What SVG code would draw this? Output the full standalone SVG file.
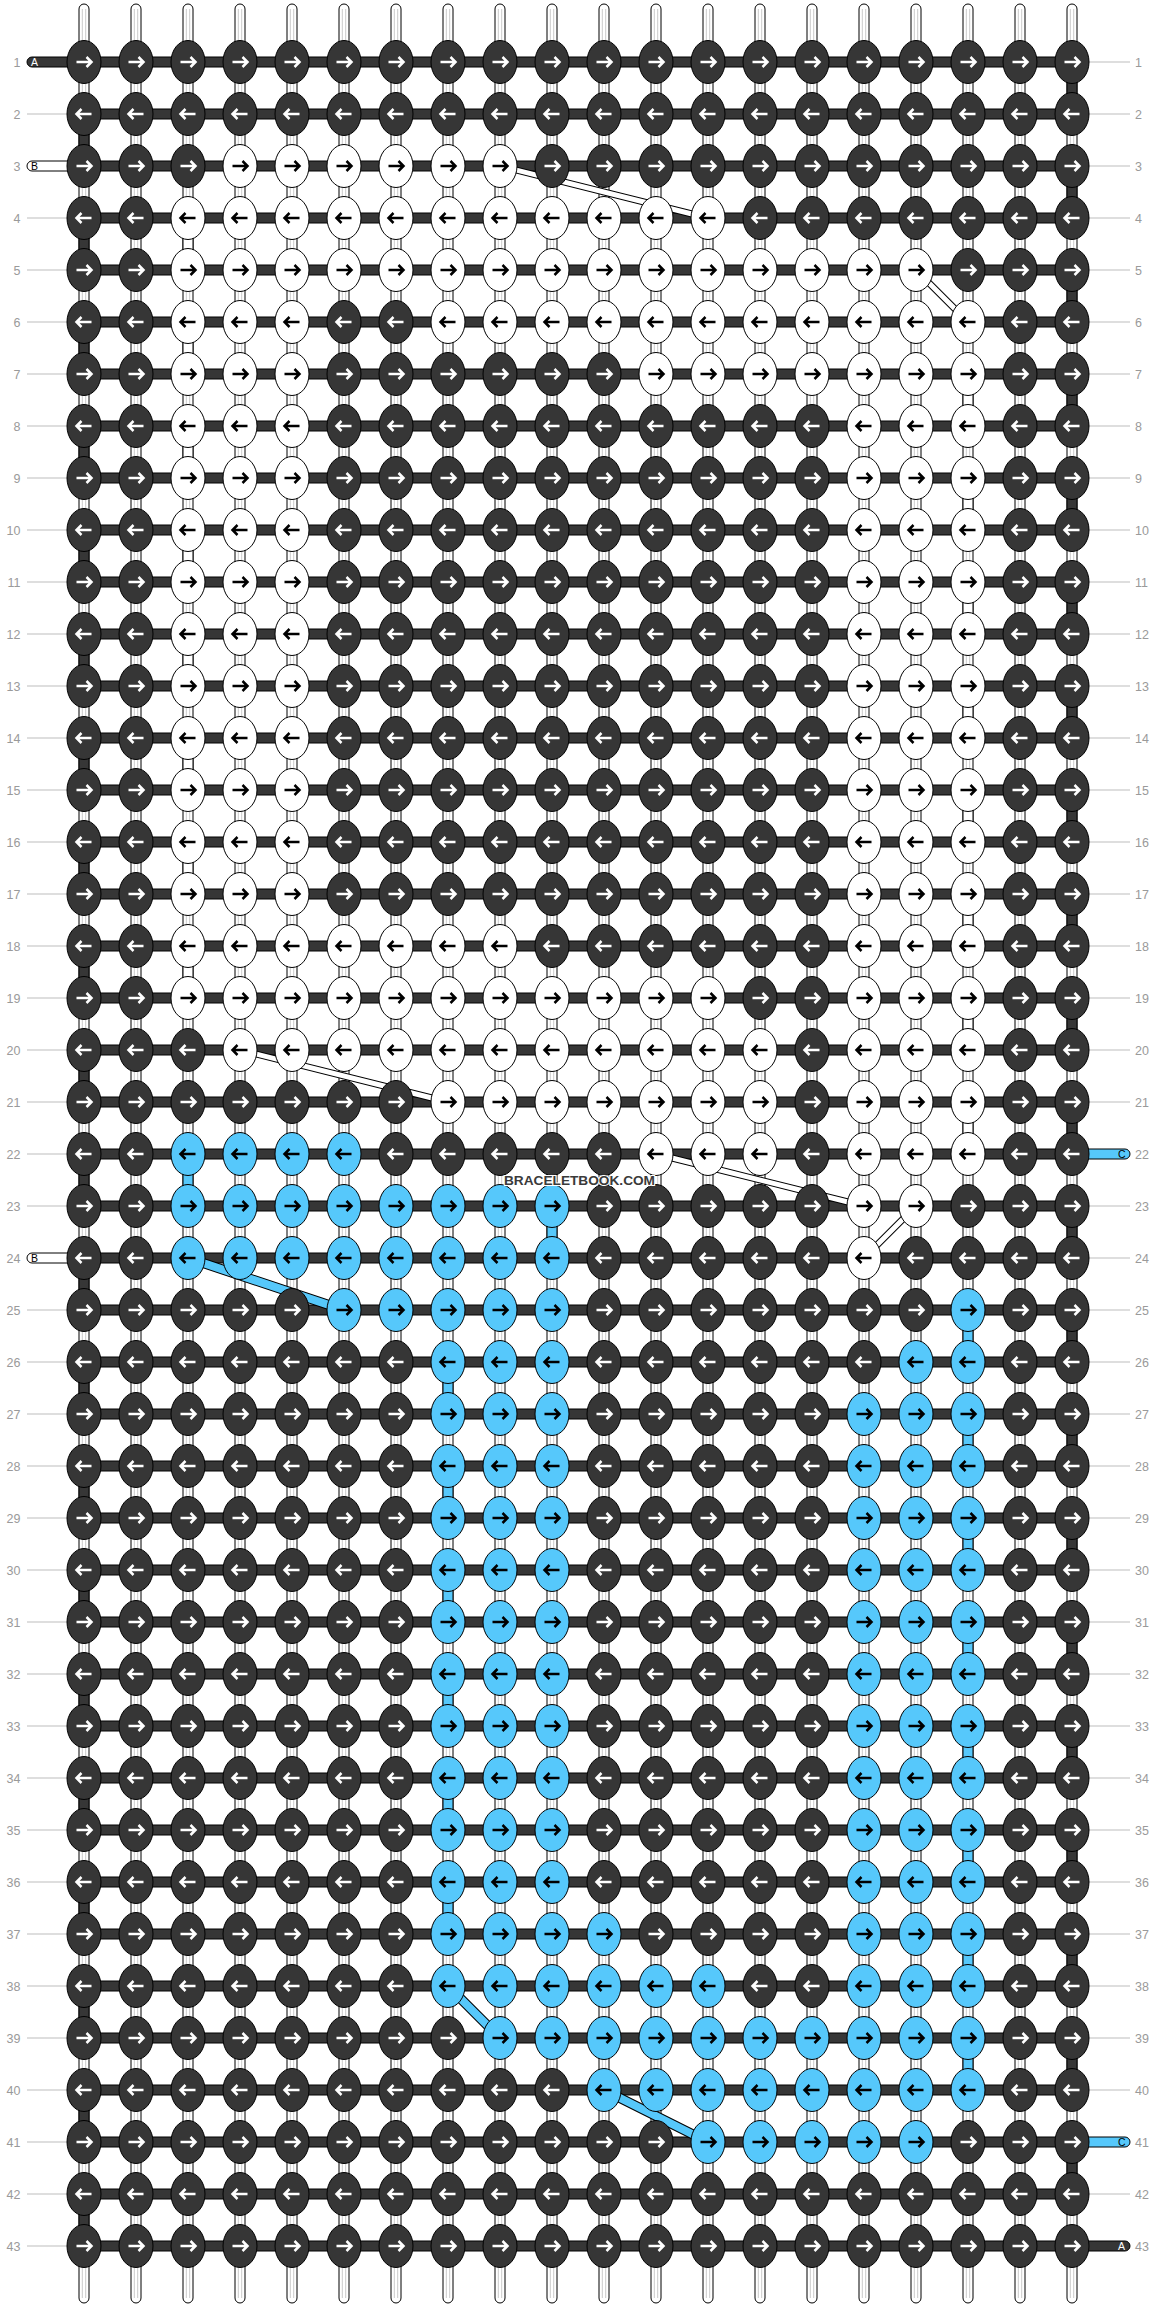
<svg xmlns="http://www.w3.org/2000/svg" width="1156" height="2308" viewBox="0 0 1156 2308">
<style>
.d{fill:#363636;stroke:#000;stroke-width:1}
.w{fill:#fff;stroke:#000;stroke-width:1}
.b{fill:#56c8fb;stroke:#000;stroke-width:1}
.aw{fill:none;stroke:#fff;stroke-width:2.5}
.ak{fill:none;stroke:#000;stroke-width:2.5}
.nl{font-family:"Liberation Sans",Arial,sans-serif;font-size:12.5px;fill:#9a9a9a;text-anchor:end}
.nr{font-family:"Liberation Sans",Arial,sans-serif;font-size:12.5px;fill:#9a9a9a}
.gl{stroke:#bdbdbd;stroke-width:1}
.lt{font-family:"Liberation Sans",Arial,sans-serif;font-size:10.5px}
.wm{font-family:"Liberation Sans",Arial,sans-serif;font-size:13px;font-weight:bold;fill:#3a3a3a;stroke:#fff;stroke-width:2;paint-order:stroke}
</style>
<defs>
<g id="str"><rect x="-5" y="4" width="10" height="2299" rx="5" class="w"/><path d="M-1.7,9V2298M1.7,9V2298" stroke="#cacaca" stroke-width="1"/></g>
<rect id="bar" x="84" y="-5" width="988" height="10" class="d"/>
<rect id="tD" width="10" height="52" class="d"/>
<rect id="tW" width="10" height="52" class="w"/>
<rect id="tB" width="10" height="52" class="b"/>
<path id="ar" d="M-7.5,0H7.5M2.5,-5L7.5,0L2.5,5"/>
<path id="al" d="M7.5,0H-7.5M-2.5,-5L-7.5,0L-2.5,5"/>
<g id="dr"><ellipse rx="17" ry="21.5" class="d"/><use href="#ar" class="aw"/></g>
<g id="dl"><ellipse rx="17" ry="21.5" class="d"/><use href="#al" class="aw"/></g>
<g id="wr"><ellipse rx="17" ry="21.5" class="w"/><use href="#ar" class="ak"/></g>
<g id="wl"><ellipse rx="17" ry="21.5" class="w"/><use href="#al" class="ak"/></g>
<g id="br"><ellipse rx="17" ry="21.5" class="b"/><use href="#ar" class="ak"/></g>
<g id="bl"><ellipse rx="17" ry="21.5" class="b"/><use href="#al" class="ak"/></g>
</defs>
<rect width="1156" height="2308" fill="#fff"/>
<g id="connectors">
<g id="strings">
<use href="#str" x="84"/><use href="#str" x="136"/><use href="#str" x="188"/><use href="#str" x="240"/><use href="#str" x="292"/><use href="#str" x="344"/><use href="#str" x="396"/><use href="#str" x="448"/><use href="#str" x="500"/><use href="#str" x="552"/><use href="#str" x="604"/><use href="#str" x="656"/><use href="#str" x="708"/><use href="#str" x="760"/><use href="#str" x="812"/><use href="#str" x="864"/><use href="#str" x="916"/><use href="#str" x="968"/><use href="#str" x="1020"/><use href="#str" x="1072"/>
</g>
<g id="turns">
<use href="#tD" x="79" y="114"/><use href="#tD" x="79" y="218"/><use href="#tD" x="79" y="322"/><use href="#tD" x="79" y="426"/><use href="#tD" x="79" y="530"/><use href="#tD" x="79" y="634"/><use href="#tD" x="79" y="738"/><use href="#tD" x="79" y="842"/><use href="#tD" x="79" y="946"/><use href="#tD" x="79" y="1050"/><use href="#tD" x="79" y="1154"/><use href="#tD" x="79" y="1258"/><use href="#tD" x="79" y="1362"/><use href="#tD" x="79" y="1466"/><use href="#tD" x="79" y="1570"/><use href="#tD" x="79" y="1674"/><use href="#tD" x="79" y="1778"/><use href="#tD" x="79" y="1882"/><use href="#tD" x="79" y="1986"/><use href="#tD" x="79" y="2090"/><use href="#tD" x="79" y="2194"/>
<use href="#tD" x="1067" y="62"/><use href="#tD" x="1067" y="166"/><use href="#tD" x="1067" y="270"/><use href="#tD" x="1067" y="374"/><use href="#tD" x="1067" y="478"/><use href="#tD" x="1067" y="582"/><use href="#tD" x="1067" y="686"/><use href="#tD" x="1067" y="790"/><use href="#tD" x="1067" y="894"/><use href="#tD" x="1067" y="998"/><use href="#tD" x="1067" y="1102"/><use href="#tD" x="1067" y="1206"/><use href="#tD" x="1067" y="1310"/><use href="#tD" x="1067" y="1414"/><use href="#tD" x="1067" y="1518"/><use href="#tD" x="1067" y="1622"/><use href="#tD" x="1067" y="1726"/><use href="#tD" x="1067" y="1830"/><use href="#tD" x="1067" y="1934"/><use href="#tD" x="1067" y="2038"/><use href="#tD" x="1067" y="2142"/>
<use href="#tW" x="183" y="218"/><use href="#tW" x="183" y="322"/><use href="#tW" x="183" y="426"/><use href="#tW" x="183" y="530"/><use href="#tW" x="183" y="634"/><use href="#tW" x="183" y="738"/><use href="#tW" x="183" y="842"/><use href="#tW" x="183" y="946"/>
<use href="#tW" x="963" y="374"/><use href="#tW" x="963" y="478"/><use href="#tW" x="963" y="582"/><use href="#tW" x="963" y="686"/><use href="#tW" x="963" y="790"/><use href="#tW" x="963" y="894"/><use href="#tW" x="963" y="998"/><use href="#tW" x="963" y="1102"/>
<use href="#tB" x="183" y="1154"/><use href="#tB" x="547" y="1206"/>
<use href="#tB" x="963" y="1310"/><use href="#tB" x="963" y="1414"/><use href="#tB" x="963" y="1518"/><use href="#tB" x="963" y="1622"/><use href="#tB" x="963" y="1726"/><use href="#tB" x="963" y="1830"/><use href="#tB" x="963" y="1934"/><use href="#tB" x="963" y="2038"/>
<use href="#tB" x="443" y="1362"/><use href="#tB" x="443" y="1466"/><use href="#tB" x="443" y="1570"/><use href="#tB" x="443" y="1674"/><use href="#tB" x="443" y="1778"/><use href="#tB" x="443" y="1882"/>
</g>
<g id="bars">
<use href="#bar" y="62"/><use href="#bar" y="114"/><use href="#bar" y="166"/><use href="#bar" y="218"/><use href="#bar" y="270"/><use href="#bar" y="322"/><use href="#bar" y="374"/><use href="#bar" y="426"/><use href="#bar" y="478"/><use href="#bar" y="530"/><use href="#bar" y="582"/><use href="#bar" y="634"/><use href="#bar" y="686"/><use href="#bar" y="738"/><use href="#bar" y="790"/><use href="#bar" y="842"/><use href="#bar" y="894"/><use href="#bar" y="946"/><use href="#bar" y="998"/><use href="#bar" y="1050"/><use href="#bar" y="1102"/><use href="#bar" y="1154"/><use href="#bar" y="1206"/><use href="#bar" y="1258"/><use href="#bar" y="1310"/><use href="#bar" y="1362"/><use href="#bar" y="1414"/><use href="#bar" y="1466"/><use href="#bar" y="1518"/><use href="#bar" y="1570"/><use href="#bar" y="1622"/><use href="#bar" y="1674"/><use href="#bar" y="1726"/><use href="#bar" y="1778"/><use href="#bar" y="1830"/><use href="#bar" y="1882"/><use href="#bar" y="1934"/><use href="#bar" y="1986"/><use href="#bar" y="2038"/><use href="#bar" y="2090"/><use href="#bar" y="2142"/><use href="#bar" y="2194"/><use href="#bar" y="2246"/>
</g>
<g id="ends">
<path d="M84,57H32A5,5 0 0 0 32,67H84Z" class="d"/><text x="31" y="65.7" class="lt" fill="#fff">A</text>
<path d="M84,161H32A5,5 0 0 0 32,171H84Z" class="w"/><text x="31" y="169.7" class="lt" fill="#000">B</text>
<path d="M84,1253H32A5,5 0 0 0 32,1263H84Z" class="w"/><text x="31" y="1261.7" class="lt" fill="#000">B</text>
<path d="M1072,1149H1125A5,5 0 0 1 1125,1159H1072Z" class="b"/><text x="1118" y="1157.7" class="lt" fill="#000">C</text>
<path d="M1072,2137H1125A5,5 0 0 1 1125,2147H1072Z" class="b"/><text x="1118" y="2145.7" class="lt" fill="#000">C</text>
<path d="M1072,2241H1125A5,5 0 0 1 1125,2251H1072Z" class="d"/><text x="1118" y="2249.7" class="lt" fill="#fff">A</text>
</g>
<g id="carries">
<g stroke="#000" stroke-width="7"><path d="M500,166L708,218M916,270L968,322M240,1050L448,1102M656,1154L864,1206M916,1206L864,1258"/></g>
<g stroke="#fff" stroke-width="5"><path d="M500,166L708,218M916,270L968,322M240,1050L448,1102M656,1154L864,1206M916,1206L864,1258"/></g>
<g stroke="#000" stroke-width="10"><path d="M188,1258L344,1310M448,1986L500,2038M604,2090L708,2142"/></g>
<g stroke="#56c8fb" stroke-width="8"><path d="M188,1258L344,1310M448,1986L500,2038M604,2090L708,2142"/></g>
</g>
</g>
<g id="rownums">
<path class="gl" d="M27,114H67M27,218H67M27,270H67M27,322H67M27,374H67M27,426H67M27,478H67M27,530H67M27,582H67M27,634H67M27,686H67M27,738H67M27,790H67M27,842H67M27,894H67M27,946H67M27,998H67M27,1050H67M27,1102H67M27,1154H67M27,1206H67M27,1310H67M27,1362H67M27,1414H67M27,1466H67M27,1518H67M27,1570H67M27,1622H67M27,1674H67M27,1726H67M27,1778H67M27,1830H67M27,1882H67M27,1934H67M27,1986H67M27,2038H67M27,2090H67M27,2142H67M27,2194H67M27,2246H67"/>
<path class="gl" d="M1089,62H1130M1089,114H1130M1089,166H1130M1089,218H1130M1089,270H1130M1089,322H1130M1089,374H1130M1089,426H1130M1089,478H1130M1089,530H1130M1089,582H1130M1089,634H1130M1089,686H1130M1089,738H1130M1089,790H1130M1089,842H1130M1089,894H1130M1089,946H1130M1089,998H1130M1089,1050H1130M1089,1102H1130M1089,1206H1130M1089,1258H1130M1089,1310H1130M1089,1362H1130M1089,1414H1130M1089,1466H1130M1089,1518H1130M1089,1570H1130M1089,1622H1130M1089,1674H1130M1089,1726H1130M1089,1778H1130M1089,1830H1130M1089,1882H1130M1089,1934H1130M1089,1986H1130M1089,2038H1130M1089,2090H1130M1089,2194H1130"/>
<text class="nl" x="20.5" y="66.5">1</text><text class="nl" x="20.5" y="118.5">2</text><text class="nl" x="20.5" y="170.5">3</text><text class="nl" x="20.5" y="222.5">4</text><text class="nl" x="20.5" y="274.5">5</text><text class="nl" x="20.5" y="326.5">6</text><text class="nl" x="20.5" y="378.5">7</text><text class="nl" x="20.5" y="430.5">8</text><text class="nl" x="20.5" y="482.5">9</text><text class="nl" x="20.5" y="534.5">10</text><text class="nl" x="20.5" y="586.5">11</text><text class="nl" x="20.5" y="638.5">12</text><text class="nl" x="20.5" y="690.5">13</text><text class="nl" x="20.5" y="742.5">14</text><text class="nl" x="20.5" y="794.5">15</text><text class="nl" x="20.5" y="846.5">16</text><text class="nl" x="20.5" y="898.5">17</text><text class="nl" x="20.5" y="950.5">18</text><text class="nl" x="20.5" y="1002.5">19</text><text class="nl" x="20.5" y="1054.5">20</text><text class="nl" x="20.5" y="1106.5">21</text><text class="nl" x="20.5" y="1158.5">22</text><text class="nl" x="20.5" y="1210.5">23</text><text class="nl" x="20.5" y="1262.5">24</text><text class="nl" x="20.5" y="1314.5">25</text><text class="nl" x="20.5" y="1366.5">26</text><text class="nl" x="20.5" y="1418.5">27</text><text class="nl" x="20.5" y="1470.5">28</text><text class="nl" x="20.5" y="1522.5">29</text><text class="nl" x="20.5" y="1574.5">30</text><text class="nl" x="20.5" y="1626.5">31</text><text class="nl" x="20.5" y="1678.5">32</text><text class="nl" x="20.5" y="1730.5">33</text><text class="nl" x="20.5" y="1782.5">34</text><text class="nl" x="20.5" y="1834.5">35</text><text class="nl" x="20.5" y="1886.5">36</text><text class="nl" x="20.5" y="1938.5">37</text><text class="nl" x="20.5" y="1990.5">38</text><text class="nl" x="20.5" y="2042.5">39</text><text class="nl" x="20.5" y="2094.5">40</text><text class="nl" x="20.5" y="2146.5">41</text><text class="nl" x="20.5" y="2198.5">42</text><text class="nl" x="20.5" y="2250.5">43</text>
<text class="nr" x="1135" y="66.5">1</text><text class="nr" x="1135" y="118.5">2</text><text class="nr" x="1135" y="170.5">3</text><text class="nr" x="1135" y="222.5">4</text><text class="nr" x="1135" y="274.5">5</text><text class="nr" x="1135" y="326.5">6</text><text class="nr" x="1135" y="378.5">7</text><text class="nr" x="1135" y="430.5">8</text><text class="nr" x="1135" y="482.5">9</text><text class="nr" x="1135" y="534.5">10</text><text class="nr" x="1135" y="586.5">11</text><text class="nr" x="1135" y="638.5">12</text><text class="nr" x="1135" y="690.5">13</text><text class="nr" x="1135" y="742.5">14</text><text class="nr" x="1135" y="794.5">15</text><text class="nr" x="1135" y="846.5">16</text><text class="nr" x="1135" y="898.5">17</text><text class="nr" x="1135" y="950.5">18</text><text class="nr" x="1135" y="1002.5">19</text><text class="nr" x="1135" y="1054.5">20</text><text class="nr" x="1135" y="1106.5">21</text><text class="nr" x="1135" y="1158.5">22</text><text class="nr" x="1135" y="1210.5">23</text><text class="nr" x="1135" y="1262.5">24</text><text class="nr" x="1135" y="1314.5">25</text><text class="nr" x="1135" y="1366.5">26</text><text class="nr" x="1135" y="1418.5">27</text><text class="nr" x="1135" y="1470.5">28</text><text class="nr" x="1135" y="1522.5">29</text><text class="nr" x="1135" y="1574.5">30</text><text class="nr" x="1135" y="1626.5">31</text><text class="nr" x="1135" y="1678.5">32</text><text class="nr" x="1135" y="1730.5">33</text><text class="nr" x="1135" y="1782.5">34</text><text class="nr" x="1135" y="1834.5">35</text><text class="nr" x="1135" y="1886.5">36</text><text class="nr" x="1135" y="1938.5">37</text><text class="nr" x="1135" y="1990.5">38</text><text class="nr" x="1135" y="2042.5">39</text><text class="nr" x="1135" y="2094.5">40</text><text class="nr" x="1135" y="2146.5">41</text><text class="nr" x="1135" y="2198.5">42</text><text class="nr" x="1135" y="2250.5">43</text>
</g>
<g id="knots">
<g transform="translate(0,62)"><g id="n1_1"><use href="#dr" x="84"/></g><g id="n1_2"><use href="#dr" x="136"/></g><g id="n1_3"><use href="#dr" x="188"/></g><g id="n1_4"><use href="#dr" x="240"/></g><g id="n1_5"><use href="#dr" x="292"/></g><g id="n1_6"><use href="#dr" x="344"/></g><g id="n1_7"><use href="#dr" x="396"/></g><g id="n1_8"><use href="#dr" x="448"/></g><g id="n1_9"><use href="#dr" x="500"/></g><g id="n1_10"><use href="#dr" x="552"/></g><g id="n1_11"><use href="#dr" x="604"/></g><g id="n1_12"><use href="#dr" x="656"/></g><g id="n1_13"><use href="#dr" x="708"/></g><g id="n1_14"><use href="#dr" x="760"/></g><g id="n1_15"><use href="#dr" x="812"/></g><g id="n1_16"><use href="#dr" x="864"/></g><g id="n1_17"><use href="#dr" x="916"/></g><g id="n1_18"><use href="#dr" x="968"/></g><g id="n1_19"><use href="#dr" x="1020"/></g><g id="n1_20"><use href="#dr" x="1072"/></g></g>
<g transform="translate(0,114)"><g id="n2_1"><use href="#dl" x="84"/></g><g id="n2_2"><use href="#dl" x="136"/></g><g id="n2_3"><use href="#dl" x="188"/></g><g id="n2_4"><use href="#dl" x="240"/></g><g id="n2_5"><use href="#dl" x="292"/></g><g id="n2_6"><use href="#dl" x="344"/></g><g id="n2_7"><use href="#dl" x="396"/></g><g id="n2_8"><use href="#dl" x="448"/></g><g id="n2_9"><use href="#dl" x="500"/></g><g id="n2_10"><use href="#dl" x="552"/></g><g id="n2_11"><use href="#dl" x="604"/></g><g id="n2_12"><use href="#dl" x="656"/></g><g id="n2_13"><use href="#dl" x="708"/></g><g id="n2_14"><use href="#dl" x="760"/></g><g id="n2_15"><use href="#dl" x="812"/></g><g id="n2_16"><use href="#dl" x="864"/></g><g id="n2_17"><use href="#dl" x="916"/></g><g id="n2_18"><use href="#dl" x="968"/></g><g id="n2_19"><use href="#dl" x="1020"/></g><g id="n2_20"><use href="#dl" x="1072"/></g></g>
<g transform="translate(0,166)"><g id="n3_1"><use href="#dr" x="84"/></g><g id="n3_2"><use href="#dr" x="136"/></g><g id="n3_3"><use href="#dr" x="188"/></g><g id="n3_4"><use href="#wr" x="240"/></g><g id="n3_5"><use href="#wr" x="292"/></g><g id="n3_6"><use href="#wr" x="344"/></g><g id="n3_7"><use href="#wr" x="396"/></g><g id="n3_8"><use href="#wr" x="448"/></g><g id="n3_9"><use href="#wr" x="500"/></g><g id="n3_10"><use href="#dr" x="552"/></g><g id="n3_11"><use href="#dr" x="604"/></g><g id="n3_12"><use href="#dr" x="656"/></g><g id="n3_13"><use href="#dr" x="708"/></g><g id="n3_14"><use href="#dr" x="760"/></g><g id="n3_15"><use href="#dr" x="812"/></g><g id="n3_16"><use href="#dr" x="864"/></g><g id="n3_17"><use href="#dr" x="916"/></g><g id="n3_18"><use href="#dr" x="968"/></g><g id="n3_19"><use href="#dr" x="1020"/></g><g id="n3_20"><use href="#dr" x="1072"/></g></g>
<g transform="translate(0,218)"><g id="n4_1"><use href="#dl" x="84"/></g><g id="n4_2"><use href="#dl" x="136"/></g><g id="n4_3"><use href="#wl" x="188"/></g><g id="n4_4"><use href="#wl" x="240"/></g><g id="n4_5"><use href="#wl" x="292"/></g><g id="n4_6"><use href="#wl" x="344"/></g><g id="n4_7"><use href="#wl" x="396"/></g><g id="n4_8"><use href="#wl" x="448"/></g><g id="n4_9"><use href="#wl" x="500"/></g><g id="n4_10"><use href="#wl" x="552"/></g><g id="n4_11"><use href="#wl" x="604"/></g><g id="n4_12"><use href="#wl" x="656"/></g><g id="n4_13"><use href="#wl" x="708"/></g><g id="n4_14"><use href="#dl" x="760"/></g><g id="n4_15"><use href="#dl" x="812"/></g><g id="n4_16"><use href="#dl" x="864"/></g><g id="n4_17"><use href="#dl" x="916"/></g><g id="n4_18"><use href="#dl" x="968"/></g><g id="n4_19"><use href="#dl" x="1020"/></g><g id="n4_20"><use href="#dl" x="1072"/></g></g>
<g transform="translate(0,270)"><g id="n5_1"><use href="#dr" x="84"/></g><g id="n5_2"><use href="#dr" x="136"/></g><g id="n5_3"><use href="#wr" x="188"/></g><g id="n5_4"><use href="#wr" x="240"/></g><g id="n5_5"><use href="#wr" x="292"/></g><g id="n5_6"><use href="#wr" x="344"/></g><g id="n5_7"><use href="#wr" x="396"/></g><g id="n5_8"><use href="#wr" x="448"/></g><g id="n5_9"><use href="#wr" x="500"/></g><g id="n5_10"><use href="#wr" x="552"/></g><g id="n5_11"><use href="#wr" x="604"/></g><g id="n5_12"><use href="#wr" x="656"/></g><g id="n5_13"><use href="#wr" x="708"/></g><g id="n5_14"><use href="#wr" x="760"/></g><g id="n5_15"><use href="#wr" x="812"/></g><g id="n5_16"><use href="#wr" x="864"/></g><g id="n5_17"><use href="#wr" x="916"/></g><g id="n5_18"><use href="#dr" x="968"/></g><g id="n5_19"><use href="#dr" x="1020"/></g><g id="n5_20"><use href="#dr" x="1072"/></g></g>
<g transform="translate(0,322)"><g id="n6_1"><use href="#dl" x="84"/></g><g id="n6_2"><use href="#dl" x="136"/></g><g id="n6_3"><use href="#wl" x="188"/></g><g id="n6_4"><use href="#wl" x="240"/></g><g id="n6_5"><use href="#wl" x="292"/></g><g id="n6_6"><use href="#dl" x="344"/></g><g id="n6_7"><use href="#dl" x="396"/></g><g id="n6_8"><use href="#wl" x="448"/></g><g id="n6_9"><use href="#wl" x="500"/></g><g id="n6_10"><use href="#wl" x="552"/></g><g id="n6_11"><use href="#wl" x="604"/></g><g id="n6_12"><use href="#wl" x="656"/></g><g id="n6_13"><use href="#wl" x="708"/></g><g id="n6_14"><use href="#wl" x="760"/></g><g id="n6_15"><use href="#wl" x="812"/></g><g id="n6_16"><use href="#wl" x="864"/></g><g id="n6_17"><use href="#wl" x="916"/></g><g id="n6_18"><use href="#wl" x="968"/></g><g id="n6_19"><use href="#dl" x="1020"/></g><g id="n6_20"><use href="#dl" x="1072"/></g></g>
<g transform="translate(0,374)"><g id="n7_1"><use href="#dr" x="84"/></g><g id="n7_2"><use href="#dr" x="136"/></g><g id="n7_3"><use href="#wr" x="188"/></g><g id="n7_4"><use href="#wr" x="240"/></g><g id="n7_5"><use href="#wr" x="292"/></g><g id="n7_6"><use href="#dr" x="344"/></g><g id="n7_7"><use href="#dr" x="396"/></g><g id="n7_8"><use href="#dr" x="448"/></g><g id="n7_9"><use href="#dr" x="500"/></g><g id="n7_10"><use href="#dr" x="552"/></g><g id="n7_11"><use href="#dr" x="604"/></g><g id="n7_12"><use href="#wr" x="656"/></g><g id="n7_13"><use href="#wr" x="708"/></g><g id="n7_14"><use href="#wr" x="760"/></g><g id="n7_15"><use href="#wr" x="812"/></g><g id="n7_16"><use href="#wr" x="864"/></g><g id="n7_17"><use href="#wr" x="916"/></g><g id="n7_18"><use href="#wr" x="968"/></g><g id="n7_19"><use href="#dr" x="1020"/></g><g id="n7_20"><use href="#dr" x="1072"/></g></g>
<g transform="translate(0,426)"><g id="n8_1"><use href="#dl" x="84"/></g><g id="n8_2"><use href="#dl" x="136"/></g><g id="n8_3"><use href="#wl" x="188"/></g><g id="n8_4"><use href="#wl" x="240"/></g><g id="n8_5"><use href="#wl" x="292"/></g><g id="n8_6"><use href="#dl" x="344"/></g><g id="n8_7"><use href="#dl" x="396"/></g><g id="n8_8"><use href="#dl" x="448"/></g><g id="n8_9"><use href="#dl" x="500"/></g><g id="n8_10"><use href="#dl" x="552"/></g><g id="n8_11"><use href="#dl" x="604"/></g><g id="n8_12"><use href="#dl" x="656"/></g><g id="n8_13"><use href="#dl" x="708"/></g><g id="n8_14"><use href="#dl" x="760"/></g><g id="n8_15"><use href="#dl" x="812"/></g><g id="n8_16"><use href="#wl" x="864"/></g><g id="n8_17"><use href="#wl" x="916"/></g><g id="n8_18"><use href="#wl" x="968"/></g><g id="n8_19"><use href="#dl" x="1020"/></g><g id="n8_20"><use href="#dl" x="1072"/></g></g>
<g transform="translate(0,478)"><g id="n9_1"><use href="#dr" x="84"/></g><g id="n9_2"><use href="#dr" x="136"/></g><g id="n9_3"><use href="#wr" x="188"/></g><g id="n9_4"><use href="#wr" x="240"/></g><g id="n9_5"><use href="#wr" x="292"/></g><g id="n9_6"><use href="#dr" x="344"/></g><g id="n9_7"><use href="#dr" x="396"/></g><g id="n9_8"><use href="#dr" x="448"/></g><g id="n9_9"><use href="#dr" x="500"/></g><g id="n9_10"><use href="#dr" x="552"/></g><g id="n9_11"><use href="#dr" x="604"/></g><g id="n9_12"><use href="#dr" x="656"/></g><g id="n9_13"><use href="#dr" x="708"/></g><g id="n9_14"><use href="#dr" x="760"/></g><g id="n9_15"><use href="#dr" x="812"/></g><g id="n9_16"><use href="#wr" x="864"/></g><g id="n9_17"><use href="#wr" x="916"/></g><g id="n9_18"><use href="#wr" x="968"/></g><g id="n9_19"><use href="#dr" x="1020"/></g><g id="n9_20"><use href="#dr" x="1072"/></g></g>
<g transform="translate(0,530)"><g id="n10_1"><use href="#dl" x="84"/></g><g id="n10_2"><use href="#dl" x="136"/></g><g id="n10_3"><use href="#wl" x="188"/></g><g id="n10_4"><use href="#wl" x="240"/></g><g id="n10_5"><use href="#wl" x="292"/></g><g id="n10_6"><use href="#dl" x="344"/></g><g id="n10_7"><use href="#dl" x="396"/></g><g id="n10_8"><use href="#dl" x="448"/></g><g id="n10_9"><use href="#dl" x="500"/></g><g id="n10_10"><use href="#dl" x="552"/></g><g id="n10_11"><use href="#dl" x="604"/></g><g id="n10_12"><use href="#dl" x="656"/></g><g id="n10_13"><use href="#dl" x="708"/></g><g id="n10_14"><use href="#dl" x="760"/></g><g id="n10_15"><use href="#dl" x="812"/></g><g id="n10_16"><use href="#wl" x="864"/></g><g id="n10_17"><use href="#wl" x="916"/></g><g id="n10_18"><use href="#wl" x="968"/></g><g id="n10_19"><use href="#dl" x="1020"/></g><g id="n10_20"><use href="#dl" x="1072"/></g></g>
<g transform="translate(0,582)"><g id="n11_1"><use href="#dr" x="84"/></g><g id="n11_2"><use href="#dr" x="136"/></g><g id="n11_3"><use href="#wr" x="188"/></g><g id="n11_4"><use href="#wr" x="240"/></g><g id="n11_5"><use href="#wr" x="292"/></g><g id="n11_6"><use href="#dr" x="344"/></g><g id="n11_7"><use href="#dr" x="396"/></g><g id="n11_8"><use href="#dr" x="448"/></g><g id="n11_9"><use href="#dr" x="500"/></g><g id="n11_10"><use href="#dr" x="552"/></g><g id="n11_11"><use href="#dr" x="604"/></g><g id="n11_12"><use href="#dr" x="656"/></g><g id="n11_13"><use href="#dr" x="708"/></g><g id="n11_14"><use href="#dr" x="760"/></g><g id="n11_15"><use href="#dr" x="812"/></g><g id="n11_16"><use href="#wr" x="864"/></g><g id="n11_17"><use href="#wr" x="916"/></g><g id="n11_18"><use href="#wr" x="968"/></g><g id="n11_19"><use href="#dr" x="1020"/></g><g id="n11_20"><use href="#dr" x="1072"/></g></g>
<g transform="translate(0,634)"><g id="n12_1"><use href="#dl" x="84"/></g><g id="n12_2"><use href="#dl" x="136"/></g><g id="n12_3"><use href="#wl" x="188"/></g><g id="n12_4"><use href="#wl" x="240"/></g><g id="n12_5"><use href="#wl" x="292"/></g><g id="n12_6"><use href="#dl" x="344"/></g><g id="n12_7"><use href="#dl" x="396"/></g><g id="n12_8"><use href="#dl" x="448"/></g><g id="n12_9"><use href="#dl" x="500"/></g><g id="n12_10"><use href="#dl" x="552"/></g><g id="n12_11"><use href="#dl" x="604"/></g><g id="n12_12"><use href="#dl" x="656"/></g><g id="n12_13"><use href="#dl" x="708"/></g><g id="n12_14"><use href="#dl" x="760"/></g><g id="n12_15"><use href="#dl" x="812"/></g><g id="n12_16"><use href="#wl" x="864"/></g><g id="n12_17"><use href="#wl" x="916"/></g><g id="n12_18"><use href="#wl" x="968"/></g><g id="n12_19"><use href="#dl" x="1020"/></g><g id="n12_20"><use href="#dl" x="1072"/></g></g>
<g transform="translate(0,686)"><g id="n13_1"><use href="#dr" x="84"/></g><g id="n13_2"><use href="#dr" x="136"/></g><g id="n13_3"><use href="#wr" x="188"/></g><g id="n13_4"><use href="#wr" x="240"/></g><g id="n13_5"><use href="#wr" x="292"/></g><g id="n13_6"><use href="#dr" x="344"/></g><g id="n13_7"><use href="#dr" x="396"/></g><g id="n13_8"><use href="#dr" x="448"/></g><g id="n13_9"><use href="#dr" x="500"/></g><g id="n13_10"><use href="#dr" x="552"/></g><g id="n13_11"><use href="#dr" x="604"/></g><g id="n13_12"><use href="#dr" x="656"/></g><g id="n13_13"><use href="#dr" x="708"/></g><g id="n13_14"><use href="#dr" x="760"/></g><g id="n13_15"><use href="#dr" x="812"/></g><g id="n13_16"><use href="#wr" x="864"/></g><g id="n13_17"><use href="#wr" x="916"/></g><g id="n13_18"><use href="#wr" x="968"/></g><g id="n13_19"><use href="#dr" x="1020"/></g><g id="n13_20"><use href="#dr" x="1072"/></g></g>
<g transform="translate(0,738)"><g id="n14_1"><use href="#dl" x="84"/></g><g id="n14_2"><use href="#dl" x="136"/></g><g id="n14_3"><use href="#wl" x="188"/></g><g id="n14_4"><use href="#wl" x="240"/></g><g id="n14_5"><use href="#wl" x="292"/></g><g id="n14_6"><use href="#dl" x="344"/></g><g id="n14_7"><use href="#dl" x="396"/></g><g id="n14_8"><use href="#dl" x="448"/></g><g id="n14_9"><use href="#dl" x="500"/></g><g id="n14_10"><use href="#dl" x="552"/></g><g id="n14_11"><use href="#dl" x="604"/></g><g id="n14_12"><use href="#dl" x="656"/></g><g id="n14_13"><use href="#dl" x="708"/></g><g id="n14_14"><use href="#dl" x="760"/></g><g id="n14_15"><use href="#dl" x="812"/></g><g id="n14_16"><use href="#wl" x="864"/></g><g id="n14_17"><use href="#wl" x="916"/></g><g id="n14_18"><use href="#wl" x="968"/></g><g id="n14_19"><use href="#dl" x="1020"/></g><g id="n14_20"><use href="#dl" x="1072"/></g></g>
<g transform="translate(0,790)"><g id="n15_1"><use href="#dr" x="84"/></g><g id="n15_2"><use href="#dr" x="136"/></g><g id="n15_3"><use href="#wr" x="188"/></g><g id="n15_4"><use href="#wr" x="240"/></g><g id="n15_5"><use href="#wr" x="292"/></g><g id="n15_6"><use href="#dr" x="344"/></g><g id="n15_7"><use href="#dr" x="396"/></g><g id="n15_8"><use href="#dr" x="448"/></g><g id="n15_9"><use href="#dr" x="500"/></g><g id="n15_10"><use href="#dr" x="552"/></g><g id="n15_11"><use href="#dr" x="604"/></g><g id="n15_12"><use href="#dr" x="656"/></g><g id="n15_13"><use href="#dr" x="708"/></g><g id="n15_14"><use href="#dr" x="760"/></g><g id="n15_15"><use href="#dr" x="812"/></g><g id="n15_16"><use href="#wr" x="864"/></g><g id="n15_17"><use href="#wr" x="916"/></g><g id="n15_18"><use href="#wr" x="968"/></g><g id="n15_19"><use href="#dr" x="1020"/></g><g id="n15_20"><use href="#dr" x="1072"/></g></g>
<g transform="translate(0,842)"><g id="n16_1"><use href="#dl" x="84"/></g><g id="n16_2"><use href="#dl" x="136"/></g><g id="n16_3"><use href="#wl" x="188"/></g><g id="n16_4"><use href="#wl" x="240"/></g><g id="n16_5"><use href="#wl" x="292"/></g><g id="n16_6"><use href="#dl" x="344"/></g><g id="n16_7"><use href="#dl" x="396"/></g><g id="n16_8"><use href="#dl" x="448"/></g><g id="n16_9"><use href="#dl" x="500"/></g><g id="n16_10"><use href="#dl" x="552"/></g><g id="n16_11"><use href="#dl" x="604"/></g><g id="n16_12"><use href="#dl" x="656"/></g><g id="n16_13"><use href="#dl" x="708"/></g><g id="n16_14"><use href="#dl" x="760"/></g><g id="n16_15"><use href="#dl" x="812"/></g><g id="n16_16"><use href="#wl" x="864"/></g><g id="n16_17"><use href="#wl" x="916"/></g><g id="n16_18"><use href="#wl" x="968"/></g><g id="n16_19"><use href="#dl" x="1020"/></g><g id="n16_20"><use href="#dl" x="1072"/></g></g>
<g transform="translate(0,894)"><g id="n17_1"><use href="#dr" x="84"/></g><g id="n17_2"><use href="#dr" x="136"/></g><g id="n17_3"><use href="#wr" x="188"/></g><g id="n17_4"><use href="#wr" x="240"/></g><g id="n17_5"><use href="#wr" x="292"/></g><g id="n17_6"><use href="#dr" x="344"/></g><g id="n17_7"><use href="#dr" x="396"/></g><g id="n17_8"><use href="#dr" x="448"/></g><g id="n17_9"><use href="#dr" x="500"/></g><g id="n17_10"><use href="#dr" x="552"/></g><g id="n17_11"><use href="#dr" x="604"/></g><g id="n17_12"><use href="#dr" x="656"/></g><g id="n17_13"><use href="#dr" x="708"/></g><g id="n17_14"><use href="#dr" x="760"/></g><g id="n17_15"><use href="#dr" x="812"/></g><g id="n17_16"><use href="#wr" x="864"/></g><g id="n17_17"><use href="#wr" x="916"/></g><g id="n17_18"><use href="#wr" x="968"/></g><g id="n17_19"><use href="#dr" x="1020"/></g><g id="n17_20"><use href="#dr" x="1072"/></g></g>
<g transform="translate(0,946)"><g id="n18_1"><use href="#dl" x="84"/></g><g id="n18_2"><use href="#dl" x="136"/></g><g id="n18_3"><use href="#wl" x="188"/></g><g id="n18_4"><use href="#wl" x="240"/></g><g id="n18_5"><use href="#wl" x="292"/></g><g id="n18_6"><use href="#wl" x="344"/></g><g id="n18_7"><use href="#wl" x="396"/></g><g id="n18_8"><use href="#wl" x="448"/></g><g id="n18_9"><use href="#wl" x="500"/></g><g id="n18_10"><use href="#dl" x="552"/></g><g id="n18_11"><use href="#dl" x="604"/></g><g id="n18_12"><use href="#dl" x="656"/></g><g id="n18_13"><use href="#dl" x="708"/></g><g id="n18_14"><use href="#dl" x="760"/></g><g id="n18_15"><use href="#dl" x="812"/></g><g id="n18_16"><use href="#wl" x="864"/></g><g id="n18_17"><use href="#wl" x="916"/></g><g id="n18_18"><use href="#wl" x="968"/></g><g id="n18_19"><use href="#dl" x="1020"/></g><g id="n18_20"><use href="#dl" x="1072"/></g></g>
<g transform="translate(0,998)"><g id="n19_1"><use href="#dr" x="84"/></g><g id="n19_2"><use href="#dr" x="136"/></g><g id="n19_3"><use href="#wr" x="188"/></g><g id="n19_4"><use href="#wr" x="240"/></g><g id="n19_5"><use href="#wr" x="292"/></g><g id="n19_6"><use href="#wr" x="344"/></g><g id="n19_7"><use href="#wr" x="396"/></g><g id="n19_8"><use href="#wr" x="448"/></g><g id="n19_9"><use href="#wr" x="500"/></g><g id="n19_10"><use href="#wr" x="552"/></g><g id="n19_11"><use href="#wr" x="604"/></g><g id="n19_12"><use href="#wr" x="656"/></g><g id="n19_13"><use href="#wr" x="708"/></g><g id="n19_14"><use href="#dr" x="760"/></g><g id="n19_15"><use href="#dr" x="812"/></g><g id="n19_16"><use href="#wr" x="864"/></g><g id="n19_17"><use href="#wr" x="916"/></g><g id="n19_18"><use href="#wr" x="968"/></g><g id="n19_19"><use href="#dr" x="1020"/></g><g id="n19_20"><use href="#dr" x="1072"/></g></g>
<g transform="translate(0,1050)"><g id="n20_1"><use href="#dl" x="84"/></g><g id="n20_2"><use href="#dl" x="136"/></g><g id="n20_3"><use href="#dl" x="188"/></g><g id="n20_4"><use href="#wl" x="240"/></g><g id="n20_5"><use href="#wl" x="292"/></g><g id="n20_6"><use href="#wl" x="344"/></g><g id="n20_7"><use href="#wl" x="396"/></g><g id="n20_8"><use href="#wl" x="448"/></g><g id="n20_9"><use href="#wl" x="500"/></g><g id="n20_10"><use href="#wl" x="552"/></g><g id="n20_11"><use href="#wl" x="604"/></g><g id="n20_12"><use href="#wl" x="656"/></g><g id="n20_13"><use href="#wl" x="708"/></g><g id="n20_14"><use href="#wl" x="760"/></g><g id="n20_15"><use href="#dl" x="812"/></g><g id="n20_16"><use href="#wl" x="864"/></g><g id="n20_17"><use href="#wl" x="916"/></g><g id="n20_18"><use href="#wl" x="968"/></g><g id="n20_19"><use href="#dl" x="1020"/></g><g id="n20_20"><use href="#dl" x="1072"/></g></g>
<g transform="translate(0,1102)"><g id="n21_1"><use href="#dr" x="84"/></g><g id="n21_2"><use href="#dr" x="136"/></g><g id="n21_3"><use href="#dr" x="188"/></g><g id="n21_4"><use href="#dr" x="240"/></g><g id="n21_5"><use href="#dr" x="292"/></g><g id="n21_6"><use href="#dr" x="344"/></g><g id="n21_7"><use href="#dr" x="396"/></g><g id="n21_8"><use href="#wr" x="448"/></g><g id="n21_9"><use href="#wr" x="500"/></g><g id="n21_10"><use href="#wr" x="552"/></g><g id="n21_11"><use href="#wr" x="604"/></g><g id="n21_12"><use href="#wr" x="656"/></g><g id="n21_13"><use href="#wr" x="708"/></g><g id="n21_14"><use href="#wr" x="760"/></g><g id="n21_15"><use href="#dr" x="812"/></g><g id="n21_16"><use href="#wr" x="864"/></g><g id="n21_17"><use href="#wr" x="916"/></g><g id="n21_18"><use href="#wr" x="968"/></g><g id="n21_19"><use href="#dr" x="1020"/></g><g id="n21_20"><use href="#dr" x="1072"/></g></g>
<g transform="translate(0,1154)"><g id="n22_1"><use href="#dl" x="84"/></g><g id="n22_2"><use href="#dl" x="136"/></g><g id="n22_3"><use href="#bl" x="188"/></g><g id="n22_4"><use href="#bl" x="240"/></g><g id="n22_5"><use href="#bl" x="292"/></g><g id="n22_6"><use href="#bl" x="344"/></g><g id="n22_7"><use href="#dl" x="396"/></g><g id="n22_8"><use href="#dl" x="448"/></g><g id="n22_9"><use href="#dl" x="500"/></g><g id="n22_10"><use href="#dl" x="552"/></g><g id="n22_11"><use href="#dl" x="604"/></g><g id="n22_12"><use href="#wl" x="656"/></g><g id="n22_13"><use href="#wl" x="708"/></g><g id="n22_14"><use href="#wl" x="760"/></g><g id="n22_15"><use href="#dl" x="812"/></g><g id="n22_16"><use href="#wl" x="864"/></g><g id="n22_17"><use href="#wl" x="916"/></g><g id="n22_18"><use href="#wl" x="968"/></g><g id="n22_19"><use href="#dl" x="1020"/></g><g id="n22_20"><use href="#dl" x="1072"/></g></g>
<g transform="translate(0,1206)"><g id="n23_1"><use href="#dr" x="84"/></g><g id="n23_2"><use href="#dr" x="136"/></g><g id="n23_3"><use href="#br" x="188"/></g><g id="n23_4"><use href="#br" x="240"/></g><g id="n23_5"><use href="#br" x="292"/></g><g id="n23_6"><use href="#br" x="344"/></g><g id="n23_7"><use href="#br" x="396"/></g><g id="n23_8"><use href="#br" x="448"/></g><g id="n23_9"><use href="#br" x="500"/></g><g id="n23_10"><use href="#br" x="552"/></g><g id="n23_11"><use href="#dr" x="604"/></g><g id="n23_12"><use href="#dr" x="656"/></g><g id="n23_13"><use href="#dr" x="708"/></g><g id="n23_14"><use href="#dr" x="760"/></g><g id="n23_15"><use href="#dr" x="812"/></g><g id="n23_16"><use href="#wr" x="864"/></g><g id="n23_17"><use href="#wr" x="916"/></g><g id="n23_18"><use href="#dr" x="968"/></g><g id="n23_19"><use href="#dr" x="1020"/></g><g id="n23_20"><use href="#dr" x="1072"/></g></g>
<g transform="translate(0,1258)"><g id="n24_1"><use href="#dl" x="84"/></g><g id="n24_2"><use href="#dl" x="136"/></g><g id="n24_3"><use href="#bl" x="188"/></g><g id="n24_4"><use href="#bl" x="240"/></g><g id="n24_5"><use href="#bl" x="292"/></g><g id="n24_6"><use href="#bl" x="344"/></g><g id="n24_7"><use href="#bl" x="396"/></g><g id="n24_8"><use href="#bl" x="448"/></g><g id="n24_9"><use href="#bl" x="500"/></g><g id="n24_10"><use href="#bl" x="552"/></g><g id="n24_11"><use href="#dl" x="604"/></g><g id="n24_12"><use href="#dl" x="656"/></g><g id="n24_13"><use href="#dl" x="708"/></g><g id="n24_14"><use href="#dl" x="760"/></g><g id="n24_15"><use href="#dl" x="812"/></g><g id="n24_16"><use href="#wl" x="864"/></g><g id="n24_17"><use href="#dl" x="916"/></g><g id="n24_18"><use href="#dl" x="968"/></g><g id="n24_19"><use href="#dl" x="1020"/></g><g id="n24_20"><use href="#dl" x="1072"/></g></g>
<g transform="translate(0,1310)"><g id="n25_1"><use href="#dr" x="84"/></g><g id="n25_2"><use href="#dr" x="136"/></g><g id="n25_3"><use href="#dr" x="188"/></g><g id="n25_4"><use href="#dr" x="240"/></g><g id="n25_5"><use href="#dr" x="292"/></g><g id="n25_6"><use href="#br" x="344"/></g><g id="n25_7"><use href="#br" x="396"/></g><g id="n25_8"><use href="#br" x="448"/></g><g id="n25_9"><use href="#br" x="500"/></g><g id="n25_10"><use href="#br" x="552"/></g><g id="n25_11"><use href="#dr" x="604"/></g><g id="n25_12"><use href="#dr" x="656"/></g><g id="n25_13"><use href="#dr" x="708"/></g><g id="n25_14"><use href="#dr" x="760"/></g><g id="n25_15"><use href="#dr" x="812"/></g><g id="n25_16"><use href="#dr" x="864"/></g><g id="n25_17"><use href="#dr" x="916"/></g><g id="n25_18"><use href="#br" x="968"/></g><g id="n25_19"><use href="#dr" x="1020"/></g><g id="n25_20"><use href="#dr" x="1072"/></g></g>
<g transform="translate(0,1362)"><g id="n26_1"><use href="#dl" x="84"/></g><g id="n26_2"><use href="#dl" x="136"/></g><g id="n26_3"><use href="#dl" x="188"/></g><g id="n26_4"><use href="#dl" x="240"/></g><g id="n26_5"><use href="#dl" x="292"/></g><g id="n26_6"><use href="#dl" x="344"/></g><g id="n26_7"><use href="#dl" x="396"/></g><g id="n26_8"><use href="#bl" x="448"/></g><g id="n26_9"><use href="#bl" x="500"/></g><g id="n26_10"><use href="#bl" x="552"/></g><g id="n26_11"><use href="#dl" x="604"/></g><g id="n26_12"><use href="#dl" x="656"/></g><g id="n26_13"><use href="#dl" x="708"/></g><g id="n26_14"><use href="#dl" x="760"/></g><g id="n26_15"><use href="#dl" x="812"/></g><g id="n26_16"><use href="#dl" x="864"/></g><g id="n26_17"><use href="#bl" x="916"/></g><g id="n26_18"><use href="#bl" x="968"/></g><g id="n26_19"><use href="#dl" x="1020"/></g><g id="n26_20"><use href="#dl" x="1072"/></g></g>
<g transform="translate(0,1414)"><g id="n27_1"><use href="#dr" x="84"/></g><g id="n27_2"><use href="#dr" x="136"/></g><g id="n27_3"><use href="#dr" x="188"/></g><g id="n27_4"><use href="#dr" x="240"/></g><g id="n27_5"><use href="#dr" x="292"/></g><g id="n27_6"><use href="#dr" x="344"/></g><g id="n27_7"><use href="#dr" x="396"/></g><g id="n27_8"><use href="#br" x="448"/></g><g id="n27_9"><use href="#br" x="500"/></g><g id="n27_10"><use href="#br" x="552"/></g><g id="n27_11"><use href="#dr" x="604"/></g><g id="n27_12"><use href="#dr" x="656"/></g><g id="n27_13"><use href="#dr" x="708"/></g><g id="n27_14"><use href="#dr" x="760"/></g><g id="n27_15"><use href="#dr" x="812"/></g><g id="n27_16"><use href="#br" x="864"/></g><g id="n27_17"><use href="#br" x="916"/></g><g id="n27_18"><use href="#br" x="968"/></g><g id="n27_19"><use href="#dr" x="1020"/></g><g id="n27_20"><use href="#dr" x="1072"/></g></g>
<g transform="translate(0,1466)"><g id="n28_1"><use href="#dl" x="84"/></g><g id="n28_2"><use href="#dl" x="136"/></g><g id="n28_3"><use href="#dl" x="188"/></g><g id="n28_4"><use href="#dl" x="240"/></g><g id="n28_5"><use href="#dl" x="292"/></g><g id="n28_6"><use href="#dl" x="344"/></g><g id="n28_7"><use href="#dl" x="396"/></g><g id="n28_8"><use href="#bl" x="448"/></g><g id="n28_9"><use href="#bl" x="500"/></g><g id="n28_10"><use href="#bl" x="552"/></g><g id="n28_11"><use href="#dl" x="604"/></g><g id="n28_12"><use href="#dl" x="656"/></g><g id="n28_13"><use href="#dl" x="708"/></g><g id="n28_14"><use href="#dl" x="760"/></g><g id="n28_15"><use href="#dl" x="812"/></g><g id="n28_16"><use href="#bl" x="864"/></g><g id="n28_17"><use href="#bl" x="916"/></g><g id="n28_18"><use href="#bl" x="968"/></g><g id="n28_19"><use href="#dl" x="1020"/></g><g id="n28_20"><use href="#dl" x="1072"/></g></g>
<g transform="translate(0,1518)"><g id="n29_1"><use href="#dr" x="84"/></g><g id="n29_2"><use href="#dr" x="136"/></g><g id="n29_3"><use href="#dr" x="188"/></g><g id="n29_4"><use href="#dr" x="240"/></g><g id="n29_5"><use href="#dr" x="292"/></g><g id="n29_6"><use href="#dr" x="344"/></g><g id="n29_7"><use href="#dr" x="396"/></g><g id="n29_8"><use href="#br" x="448"/></g><g id="n29_9"><use href="#br" x="500"/></g><g id="n29_10"><use href="#br" x="552"/></g><g id="n29_11"><use href="#dr" x="604"/></g><g id="n29_12"><use href="#dr" x="656"/></g><g id="n29_13"><use href="#dr" x="708"/></g><g id="n29_14"><use href="#dr" x="760"/></g><g id="n29_15"><use href="#dr" x="812"/></g><g id="n29_16"><use href="#br" x="864"/></g><g id="n29_17"><use href="#br" x="916"/></g><g id="n29_18"><use href="#br" x="968"/></g><g id="n29_19"><use href="#dr" x="1020"/></g><g id="n29_20"><use href="#dr" x="1072"/></g></g>
<g transform="translate(0,1570)"><g id="n30_1"><use href="#dl" x="84"/></g><g id="n30_2"><use href="#dl" x="136"/></g><g id="n30_3"><use href="#dl" x="188"/></g><g id="n30_4"><use href="#dl" x="240"/></g><g id="n30_5"><use href="#dl" x="292"/></g><g id="n30_6"><use href="#dl" x="344"/></g><g id="n30_7"><use href="#dl" x="396"/></g><g id="n30_8"><use href="#bl" x="448"/></g><g id="n30_9"><use href="#bl" x="500"/></g><g id="n30_10"><use href="#bl" x="552"/></g><g id="n30_11"><use href="#dl" x="604"/></g><g id="n30_12"><use href="#dl" x="656"/></g><g id="n30_13"><use href="#dl" x="708"/></g><g id="n30_14"><use href="#dl" x="760"/></g><g id="n30_15"><use href="#dl" x="812"/></g><g id="n30_16"><use href="#bl" x="864"/></g><g id="n30_17"><use href="#bl" x="916"/></g><g id="n30_18"><use href="#bl" x="968"/></g><g id="n30_19"><use href="#dl" x="1020"/></g><g id="n30_20"><use href="#dl" x="1072"/></g></g>
<g transform="translate(0,1622)"><g id="n31_1"><use href="#dr" x="84"/></g><g id="n31_2"><use href="#dr" x="136"/></g><g id="n31_3"><use href="#dr" x="188"/></g><g id="n31_4"><use href="#dr" x="240"/></g><g id="n31_5"><use href="#dr" x="292"/></g><g id="n31_6"><use href="#dr" x="344"/></g><g id="n31_7"><use href="#dr" x="396"/></g><g id="n31_8"><use href="#br" x="448"/></g><g id="n31_9"><use href="#br" x="500"/></g><g id="n31_10"><use href="#br" x="552"/></g><g id="n31_11"><use href="#dr" x="604"/></g><g id="n31_12"><use href="#dr" x="656"/></g><g id="n31_13"><use href="#dr" x="708"/></g><g id="n31_14"><use href="#dr" x="760"/></g><g id="n31_15"><use href="#dr" x="812"/></g><g id="n31_16"><use href="#br" x="864"/></g><g id="n31_17"><use href="#br" x="916"/></g><g id="n31_18"><use href="#br" x="968"/></g><g id="n31_19"><use href="#dr" x="1020"/></g><g id="n31_20"><use href="#dr" x="1072"/></g></g>
<g transform="translate(0,1674)"><g id="n32_1"><use href="#dl" x="84"/></g><g id="n32_2"><use href="#dl" x="136"/></g><g id="n32_3"><use href="#dl" x="188"/></g><g id="n32_4"><use href="#dl" x="240"/></g><g id="n32_5"><use href="#dl" x="292"/></g><g id="n32_6"><use href="#dl" x="344"/></g><g id="n32_7"><use href="#dl" x="396"/></g><g id="n32_8"><use href="#bl" x="448"/></g><g id="n32_9"><use href="#bl" x="500"/></g><g id="n32_10"><use href="#bl" x="552"/></g><g id="n32_11"><use href="#dl" x="604"/></g><g id="n32_12"><use href="#dl" x="656"/></g><g id="n32_13"><use href="#dl" x="708"/></g><g id="n32_14"><use href="#dl" x="760"/></g><g id="n32_15"><use href="#dl" x="812"/></g><g id="n32_16"><use href="#bl" x="864"/></g><g id="n32_17"><use href="#bl" x="916"/></g><g id="n32_18"><use href="#bl" x="968"/></g><g id="n32_19"><use href="#dl" x="1020"/></g><g id="n32_20"><use href="#dl" x="1072"/></g></g>
<g transform="translate(0,1726)"><g id="n33_1"><use href="#dr" x="84"/></g><g id="n33_2"><use href="#dr" x="136"/></g><g id="n33_3"><use href="#dr" x="188"/></g><g id="n33_4"><use href="#dr" x="240"/></g><g id="n33_5"><use href="#dr" x="292"/></g><g id="n33_6"><use href="#dr" x="344"/></g><g id="n33_7"><use href="#dr" x="396"/></g><g id="n33_8"><use href="#br" x="448"/></g><g id="n33_9"><use href="#br" x="500"/></g><g id="n33_10"><use href="#br" x="552"/></g><g id="n33_11"><use href="#dr" x="604"/></g><g id="n33_12"><use href="#dr" x="656"/></g><g id="n33_13"><use href="#dr" x="708"/></g><g id="n33_14"><use href="#dr" x="760"/></g><g id="n33_15"><use href="#dr" x="812"/></g><g id="n33_16"><use href="#br" x="864"/></g><g id="n33_17"><use href="#br" x="916"/></g><g id="n33_18"><use href="#br" x="968"/></g><g id="n33_19"><use href="#dr" x="1020"/></g><g id="n33_20"><use href="#dr" x="1072"/></g></g>
<g transform="translate(0,1778)"><g id="n34_1"><use href="#dl" x="84"/></g><g id="n34_2"><use href="#dl" x="136"/></g><g id="n34_3"><use href="#dl" x="188"/></g><g id="n34_4"><use href="#dl" x="240"/></g><g id="n34_5"><use href="#dl" x="292"/></g><g id="n34_6"><use href="#dl" x="344"/></g><g id="n34_7"><use href="#dl" x="396"/></g><g id="n34_8"><use href="#bl" x="448"/></g><g id="n34_9"><use href="#bl" x="500"/></g><g id="n34_10"><use href="#bl" x="552"/></g><g id="n34_11"><use href="#dl" x="604"/></g><g id="n34_12"><use href="#dl" x="656"/></g><g id="n34_13"><use href="#dl" x="708"/></g><g id="n34_14"><use href="#dl" x="760"/></g><g id="n34_15"><use href="#dl" x="812"/></g><g id="n34_16"><use href="#bl" x="864"/></g><g id="n34_17"><use href="#bl" x="916"/></g><g id="n34_18"><use href="#bl" x="968"/></g><g id="n34_19"><use href="#dl" x="1020"/></g><g id="n34_20"><use href="#dl" x="1072"/></g></g>
<g transform="translate(0,1830)"><g id="n35_1"><use href="#dr" x="84"/></g><g id="n35_2"><use href="#dr" x="136"/></g><g id="n35_3"><use href="#dr" x="188"/></g><g id="n35_4"><use href="#dr" x="240"/></g><g id="n35_5"><use href="#dr" x="292"/></g><g id="n35_6"><use href="#dr" x="344"/></g><g id="n35_7"><use href="#dr" x="396"/></g><g id="n35_8"><use href="#br" x="448"/></g><g id="n35_9"><use href="#br" x="500"/></g><g id="n35_10"><use href="#br" x="552"/></g><g id="n35_11"><use href="#dr" x="604"/></g><g id="n35_12"><use href="#dr" x="656"/></g><g id="n35_13"><use href="#dr" x="708"/></g><g id="n35_14"><use href="#dr" x="760"/></g><g id="n35_15"><use href="#dr" x="812"/></g><g id="n35_16"><use href="#br" x="864"/></g><g id="n35_17"><use href="#br" x="916"/></g><g id="n35_18"><use href="#br" x="968"/></g><g id="n35_19"><use href="#dr" x="1020"/></g><g id="n35_20"><use href="#dr" x="1072"/></g></g>
<g transform="translate(0,1882)"><g id="n36_1"><use href="#dl" x="84"/></g><g id="n36_2"><use href="#dl" x="136"/></g><g id="n36_3"><use href="#dl" x="188"/></g><g id="n36_4"><use href="#dl" x="240"/></g><g id="n36_5"><use href="#dl" x="292"/></g><g id="n36_6"><use href="#dl" x="344"/></g><g id="n36_7"><use href="#dl" x="396"/></g><g id="n36_8"><use href="#bl" x="448"/></g><g id="n36_9"><use href="#bl" x="500"/></g><g id="n36_10"><use href="#bl" x="552"/></g><g id="n36_11"><use href="#dl" x="604"/></g><g id="n36_12"><use href="#dl" x="656"/></g><g id="n36_13"><use href="#dl" x="708"/></g><g id="n36_14"><use href="#dl" x="760"/></g><g id="n36_15"><use href="#dl" x="812"/></g><g id="n36_16"><use href="#bl" x="864"/></g><g id="n36_17"><use href="#bl" x="916"/></g><g id="n36_18"><use href="#bl" x="968"/></g><g id="n36_19"><use href="#dl" x="1020"/></g><g id="n36_20"><use href="#dl" x="1072"/></g></g>
<g transform="translate(0,1934)"><g id="n37_1"><use href="#dr" x="84"/></g><g id="n37_2"><use href="#dr" x="136"/></g><g id="n37_3"><use href="#dr" x="188"/></g><g id="n37_4"><use href="#dr" x="240"/></g><g id="n37_5"><use href="#dr" x="292"/></g><g id="n37_6"><use href="#dr" x="344"/></g><g id="n37_7"><use href="#dr" x="396"/></g><g id="n37_8"><use href="#br" x="448"/></g><g id="n37_9"><use href="#br" x="500"/></g><g id="n37_10"><use href="#br" x="552"/></g><g id="n37_11"><use href="#br" x="604"/></g><g id="n37_12"><use href="#dr" x="656"/></g><g id="n37_13"><use href="#dr" x="708"/></g><g id="n37_14"><use href="#dr" x="760"/></g><g id="n37_15"><use href="#dr" x="812"/></g><g id="n37_16"><use href="#br" x="864"/></g><g id="n37_17"><use href="#br" x="916"/></g><g id="n37_18"><use href="#br" x="968"/></g><g id="n37_19"><use href="#dr" x="1020"/></g><g id="n37_20"><use href="#dr" x="1072"/></g></g>
<g transform="translate(0,1986)"><g id="n38_1"><use href="#dl" x="84"/></g><g id="n38_2"><use href="#dl" x="136"/></g><g id="n38_3"><use href="#dl" x="188"/></g><g id="n38_4"><use href="#dl" x="240"/></g><g id="n38_5"><use href="#dl" x="292"/></g><g id="n38_6"><use href="#dl" x="344"/></g><g id="n38_7"><use href="#dl" x="396"/></g><g id="n38_8"><use href="#bl" x="448"/></g><g id="n38_9"><use href="#bl" x="500"/></g><g id="n38_10"><use href="#bl" x="552"/></g><g id="n38_11"><use href="#bl" x="604"/></g><g id="n38_12"><use href="#bl" x="656"/></g><g id="n38_13"><use href="#bl" x="708"/></g><g id="n38_14"><use href="#dl" x="760"/></g><g id="n38_15"><use href="#dl" x="812"/></g><g id="n38_16"><use href="#bl" x="864"/></g><g id="n38_17"><use href="#bl" x="916"/></g><g id="n38_18"><use href="#bl" x="968"/></g><g id="n38_19"><use href="#dl" x="1020"/></g><g id="n38_20"><use href="#dl" x="1072"/></g></g>
<g transform="translate(0,2038)"><g id="n39_1"><use href="#dr" x="84"/></g><g id="n39_2"><use href="#dr" x="136"/></g><g id="n39_3"><use href="#dr" x="188"/></g><g id="n39_4"><use href="#dr" x="240"/></g><g id="n39_5"><use href="#dr" x="292"/></g><g id="n39_6"><use href="#dr" x="344"/></g><g id="n39_7"><use href="#dr" x="396"/></g><g id="n39_8"><use href="#dr" x="448"/></g><g id="n39_9"><use href="#br" x="500"/></g><g id="n39_10"><use href="#br" x="552"/></g><g id="n39_11"><use href="#br" x="604"/></g><g id="n39_12"><use href="#br" x="656"/></g><g id="n39_13"><use href="#br" x="708"/></g><g id="n39_14"><use href="#br" x="760"/></g><g id="n39_15"><use href="#br" x="812"/></g><g id="n39_16"><use href="#br" x="864"/></g><g id="n39_17"><use href="#br" x="916"/></g><g id="n39_18"><use href="#br" x="968"/></g><g id="n39_19"><use href="#dr" x="1020"/></g><g id="n39_20"><use href="#dr" x="1072"/></g></g>
<g transform="translate(0,2090)"><g id="n40_1"><use href="#dl" x="84"/></g><g id="n40_2"><use href="#dl" x="136"/></g><g id="n40_3"><use href="#dl" x="188"/></g><g id="n40_4"><use href="#dl" x="240"/></g><g id="n40_5"><use href="#dl" x="292"/></g><g id="n40_6"><use href="#dl" x="344"/></g><g id="n40_7"><use href="#dl" x="396"/></g><g id="n40_8"><use href="#dl" x="448"/></g><g id="n40_9"><use href="#dl" x="500"/></g><g id="n40_10"><use href="#dl" x="552"/></g><g id="n40_11"><use href="#bl" x="604"/></g><g id="n40_12"><use href="#bl" x="656"/></g><g id="n40_13"><use href="#bl" x="708"/></g><g id="n40_14"><use href="#bl" x="760"/></g><g id="n40_15"><use href="#bl" x="812"/></g><g id="n40_16"><use href="#bl" x="864"/></g><g id="n40_17"><use href="#bl" x="916"/></g><g id="n40_18"><use href="#bl" x="968"/></g><g id="n40_19"><use href="#dl" x="1020"/></g><g id="n40_20"><use href="#dl" x="1072"/></g></g>
<g transform="translate(0,2142)"><g id="n41_1"><use href="#dr" x="84"/></g><g id="n41_2"><use href="#dr" x="136"/></g><g id="n41_3"><use href="#dr" x="188"/></g><g id="n41_4"><use href="#dr" x="240"/></g><g id="n41_5"><use href="#dr" x="292"/></g><g id="n41_6"><use href="#dr" x="344"/></g><g id="n41_7"><use href="#dr" x="396"/></g><g id="n41_8"><use href="#dr" x="448"/></g><g id="n41_9"><use href="#dr" x="500"/></g><g id="n41_10"><use href="#dr" x="552"/></g><g id="n41_11"><use href="#dr" x="604"/></g><g id="n41_12"><use href="#dr" x="656"/></g><g id="n41_13"><use href="#br" x="708"/></g><g id="n41_14"><use href="#br" x="760"/></g><g id="n41_15"><use href="#br" x="812"/></g><g id="n41_16"><use href="#br" x="864"/></g><g id="n41_17"><use href="#br" x="916"/></g><g id="n41_18"><use href="#dr" x="968"/></g><g id="n41_19"><use href="#dr" x="1020"/></g><g id="n41_20"><use href="#dr" x="1072"/></g></g>
<g transform="translate(0,2194)"><g id="n42_1"><use href="#dl" x="84"/></g><g id="n42_2"><use href="#dl" x="136"/></g><g id="n42_3"><use href="#dl" x="188"/></g><g id="n42_4"><use href="#dl" x="240"/></g><g id="n42_5"><use href="#dl" x="292"/></g><g id="n42_6"><use href="#dl" x="344"/></g><g id="n42_7"><use href="#dl" x="396"/></g><g id="n42_8"><use href="#dl" x="448"/></g><g id="n42_9"><use href="#dl" x="500"/></g><g id="n42_10"><use href="#dl" x="552"/></g><g id="n42_11"><use href="#dl" x="604"/></g><g id="n42_12"><use href="#dl" x="656"/></g><g id="n42_13"><use href="#dl" x="708"/></g><g id="n42_14"><use href="#dl" x="760"/></g><g id="n42_15"><use href="#dl" x="812"/></g><g id="n42_16"><use href="#dl" x="864"/></g><g id="n42_17"><use href="#dl" x="916"/></g><g id="n42_18"><use href="#dl" x="968"/></g><g id="n42_19"><use href="#dl" x="1020"/></g><g id="n42_20"><use href="#dl" x="1072"/></g></g>
<g transform="translate(0,2246)"><g id="n43_1"><use href="#dr" x="84"/></g><g id="n43_2"><use href="#dr" x="136"/></g><g id="n43_3"><use href="#dr" x="188"/></g><g id="n43_4"><use href="#dr" x="240"/></g><g id="n43_5"><use href="#dr" x="292"/></g><g id="n43_6"><use href="#dr" x="344"/></g><g id="n43_7"><use href="#dr" x="396"/></g><g id="n43_8"><use href="#dr" x="448"/></g><g id="n43_9"><use href="#dr" x="500"/></g><g id="n43_10"><use href="#dr" x="552"/></g><g id="n43_11"><use href="#dr" x="604"/></g><g id="n43_12"><use href="#dr" x="656"/></g><g id="n43_13"><use href="#dr" x="708"/></g><g id="n43_14"><use href="#dr" x="760"/></g><g id="n43_15"><use href="#dr" x="812"/></g><g id="n43_16"><use href="#dr" x="864"/></g><g id="n43_17"><use href="#dr" x="916"/></g><g id="n43_18"><use href="#dr" x="968"/></g><g id="n43_19"><use href="#dr" x="1020"/></g><g id="n43_20"><use href="#dr" x="1072"/></g></g>
</g>
<text class="wm" x="504" y="1185" textLength="151" lengthAdjust="spacingAndGlyphs">BRACELETBOOK.COM</text>
</svg>
